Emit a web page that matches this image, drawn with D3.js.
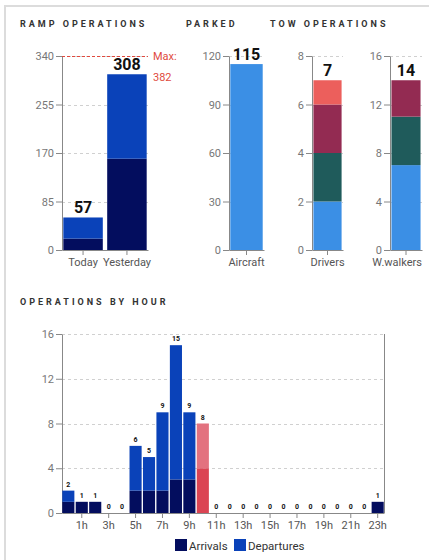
<!DOCTYPE html>
<html><head><meta charset="utf-8">
<script src="https://cdn.jsdelivr.net/npm/d3@7"></script>
<style>
body{margin:0;background:#fff;font-family:Roboto,"Noto Sans",sans-serif;}
svg{display:block;}
.title{font-size:9px;font-weight:bold;letter-spacing:3px;fill:#333;}
.ytick text{font-size:11px;fill:#777;}
.xlab{font-size:11px;fill:#555;}
</style></head><body>
<svg id="c" width="429" height="560"></svg>
<script>
// ---- data ----
const rampCats = ["Today","Yesterday"];
const rampArrivals = [20,160];
const rampDepartures = [37,148];
const rampTotals = [57,308];
const rampTicks = [0,85,170,255,340];
const rampMax = 382;

const parkedCats = ["Aircraft"];
const parkedValues = [115];
const parkedTicks = [0,30,60,90,120];

const driversSeg = [2,2,2,1];      // light blue, teal, maroon, coral
const driversTotal = 7;
const driversTicks = [0,2,4,6,8];
const walkersSeg = [7,4,3,0];
const walkersTotal = 14;
const walkersTicks = [0,4,8,12,16];

const hours = d3.range(24).map(h => h + "h");
const hourArrivals   = [1,1,1,0,0,2,2,2,3,3,4,0,0,0,0,0,0,0,0,0,0,0,0,1];
const hourDepartures = [1,0,0,0,0,4,3,7,12,6,4,0,0,0,0,0,0,0,0,0,0,0,0,0];
const hourTicks = [0,4,8,12,16];
const hourLabels = ["1h","3h","5h","7h","9h","11h","13h","15h","17h","19h","21h","23h"];
const currentHour = "10h";

const legendItems = ["Arrivals","Departures"];

// ---- styles ----
const C = {arr:"#030d5e", dep:"#0a42b9", lblue:"#3b8fe5", teal:"#1f5b5b", maroon:"#932b52", coral:"#ec5f5c",
  hArr:"#db4453", hDep:"#e3727f", red:"#e04a3e", axis:"#888", grid:"#d0d0d0"};
const svg = d3.select("#c");

// border
svg.append("line").attr("x1",4).attr("x2",429).attr("y1",6).attr("y2",6).attr("stroke","#dcdcdc").attr("stroke-width",2);
svg.append("line").attr("x1",5).attr("x2",5).attr("y1",5).attr("y2",560).attr("stroke","#dcdcdc").attr("stroke-width",2);

// titles
svg.append("text").attr("class","title").attr("x",20).attr("y",27).text("RAMP OPERATIONS");
svg.append("text").attr("class","title").attr("x",186).attr("y",27).text("PARKED");
svg.append("text").attr("class","title").attr("x",270).attr("y",27).text("TOW OPERATIONS");
svg.append("text").attr("class","title").attr("x",20).attr("y",305).text("OPERATIONS BY HOUR");

function yAxis(g, y, ticks, x0, x1){
  g.append("g").selectAll("line").data(ticks.filter(t=>t>0)).join("line")
    .attr("x1",x0).attr("x2",x1).attr("y1",d=>Math.round(y(d))+0.5).attr("y2",d=>Math.round(y(d))+0.5)
    .attr("stroke",C.grid).attr("stroke-dasharray","3,3");
  const a = g.append("g").attr("class","ytick").attr("transform",`translate(${x0},0)`)
    .call(d3.axisLeft(y).tickValues(ticks).tickSize(6).tickPadding(2).tickSizeOuter(0));
  a.select(".domain").attr("stroke",C.axis);
  a.selectAll(".tick line").attr("stroke",C.axis);
  a.selectAll("text").attr("font-family","Roboto");
  return a;
}
function xAxis(g, x, y0, labels, maxX){
  let ax = d3.axisBottom(x).tickSize(5).tickPadding(3).tickSizeOuter(0);
  if(labels) ax = ax.tickValues(labels);
  const a = g.append("g").attr("transform",`translate(0,${y0})`).call(ax);
  a.select(".domain").attr("stroke",C.axis);
  a.selectAll(".tick line").attr("stroke",C.axis);
  a.selectAll("text").attr("class","xlab").attr("font-family","Roboto").attr("font-size",11).attr("fill","#555");
  if(maxX){
    // keep label inside the plot's right edge
    a.selectAll(".tick").each(function(){
      const t = d3.select(this).select("text");
      const tr = this.getAttribute("transform");
      const cx = +tr.match(/translate\(([-\d.]+)/)[1];
      const w = t.node().getComputedTextLength();
      if(cx + w/2 > maxX) t.attr("dx", maxX - (cx + w/2));
    });
  }
  return a;
}
function valueLabel(g, x, yv, txt, size){
  g.append("text").attr("x",x).attr("y",yv).attr("text-anchor","middle")
    .attr("font-weight","bold").attr("font-size",size).attr("fill","#111").text(txt);
}

const plotTop = 56, plotBottom = 250;

// ---- ramp ----
{
  const g = svg.append("g");
  const y = d3.scaleLinear().domain([0,340]).range([plotBottom,plotTop]);
  const x = d3.scaleBand().domain(rampCats).range([62,148]).paddingInner(0.1).paddingOuter(0.03);
  yAxis(g,y,rampTicks,62,148);
  const ym = Math.round(y(Math.min(rampMax,340)));
  g.append("line").attr("x1",62).attr("x2",148).attr("y1",ym+0.5).attr("y2",ym+0.5)
    .attr("stroke",C.red).attr("stroke-dasharray","3,2");
  g.append("text").attr("x",153).attr("y",ym+4).attr("font-size",11).attr("fill",C.red).text("Max:");
  g.append("text").attr("x",153).attr("y",ym+25).attr("font-size",11).attr("fill",C.red).text(rampMax);
  rampCats.forEach((c,i)=>{
    g.append("rect").attr("x",x(c)).attr("width",x.bandwidth()).attr("y",y(rampArrivals[i])).attr("height",plotBottom-y(rampArrivals[i])).attr("fill",C.arr);
    g.append("rect").attr("x",x(c)).attr("width",x.bandwidth()).attr("y",y(rampArrivals[i]+rampDepartures[i])).attr("height",y(rampArrivals[i])-y(rampArrivals[i]+rampDepartures[i])).attr("fill",C.dep);
    valueLabel(g, x(c)+x.bandwidth()/2, y(rampTotals[i])-4, rampTotals[i], 16);
  });
  xAxis(g,x,plotBottom);
}

// ---- parked ----
{
  const g = svg.append("g");
  const y = d3.scaleLinear().domain([0,120]).range([plotBottom,plotTop]);
  const x = d3.scaleBand().domain(parkedCats).range([229,264]).paddingOuter(0.04);
  yAxis(g,y,parkedTicks,229,264);
  parkedCats.forEach((c,i)=>{
    g.append("rect").attr("x",x(c)).attr("width",x.bandwidth()).attr("y",y(parkedValues[i])).attr("height",plotBottom-y(parkedValues[i])).attr("fill",C.lblue);
    valueLabel(g, x(c)+x.bandwidth()/2, y(parkedValues[i])-4, parkedValues[i], 16);
  });
  xAxis(g,x,plotBottom);
}

// ---- tow ----
function towChart(cat, seg, total, ticks, x0, x1){
  const g = svg.append("g");
  const y = d3.scaleLinear().domain([0,ticks[ticks.length-1]]).range([plotBottom,plotTop]);
  const x = d3.scaleBand().domain([cat]).range([x0,x1]).paddingOuter(0.05);
  yAxis(g,y,ticks,x0,x1);
  const cols = [C.lblue,C.teal,C.maroon,C.coral];
  let acc = 0;
  seg.forEach((v,i)=>{
    if(v>0){
      g.append("rect").attr("x",x(cat)).attr("width",x.bandwidth()).attr("y",y(acc+v)).attr("height",y(acc)-y(acc+v)).attr("fill",cols[i]);
    }
    acc += v;
  });
  valueLabel(g, x(cat)+x.bandwidth()/2, y(total)-4, total, 16);
  xAxis(g,x,plotBottom,null,422);
}
towChart("Drivers", driversSeg, driversTotal, driversTicks, 312, 343);
towChart("W.walkers", walkersSeg, walkersTotal, walkersTicks, 390, 422);

// ---- hourly ----
{
  const g = svg.append("g");
  const hTop = 334, hBottom = 513;
  const y = d3.scaleLinear().domain([0,16]).range([hBottom,hTop]);
  const x = d3.scaleBand().domain(hours).range([62,384]).paddingInner(0.1).paddingOuter(0.02);
  yAxis(g,y,hourTicks,62,384);
  g.append("line").attr("x1",384.5).attr("x2",384.5).attr("y1",hTop).attr("y2",hBottom).attr("stroke",C.axis);
  hours.forEach((h,i)=>{
    const cur = h===currentHour;
    const a = hourArrivals[i], d = hourDepartures[i];
    if(a>0) g.append("rect").attr("x",x(h)).attr("width",x.bandwidth()).attr("y",y(a)).attr("height",hBottom-y(a)).attr("fill",cur?C.hArr:C.arr);
    if(d>0) g.append("rect").attr("x",x(h)).attr("width",x.bandwidth()).attr("y",y(a+d)).attr("height",y(a)-y(a+d)).attr("fill",cur?C.hDep:C.dep);
    g.append("text").attr("x",x(h)+x.bandwidth()/2).attr("y",y(a+d)-4).attr("text-anchor","middle")
      .attr("font-size",7).attr("font-weight","bold").attr("fill","#111").text(a+d);
  });
  xAxis(g,x,hBottom,hourLabels);
  const lx = [175,234];
  legendItems.forEach((t,i)=>{
    g.append("rect").attr("x",lx[i]).attr("y",539).attr("width",12).attr("height",12).attr("fill",i?C.dep:C.arr);
    g.append("text").attr("x",lx[i]+14).attr("y",549.5).attr("font-size",11.5).attr("fill","#333").text(t);
  });
}
</script></body></html>
